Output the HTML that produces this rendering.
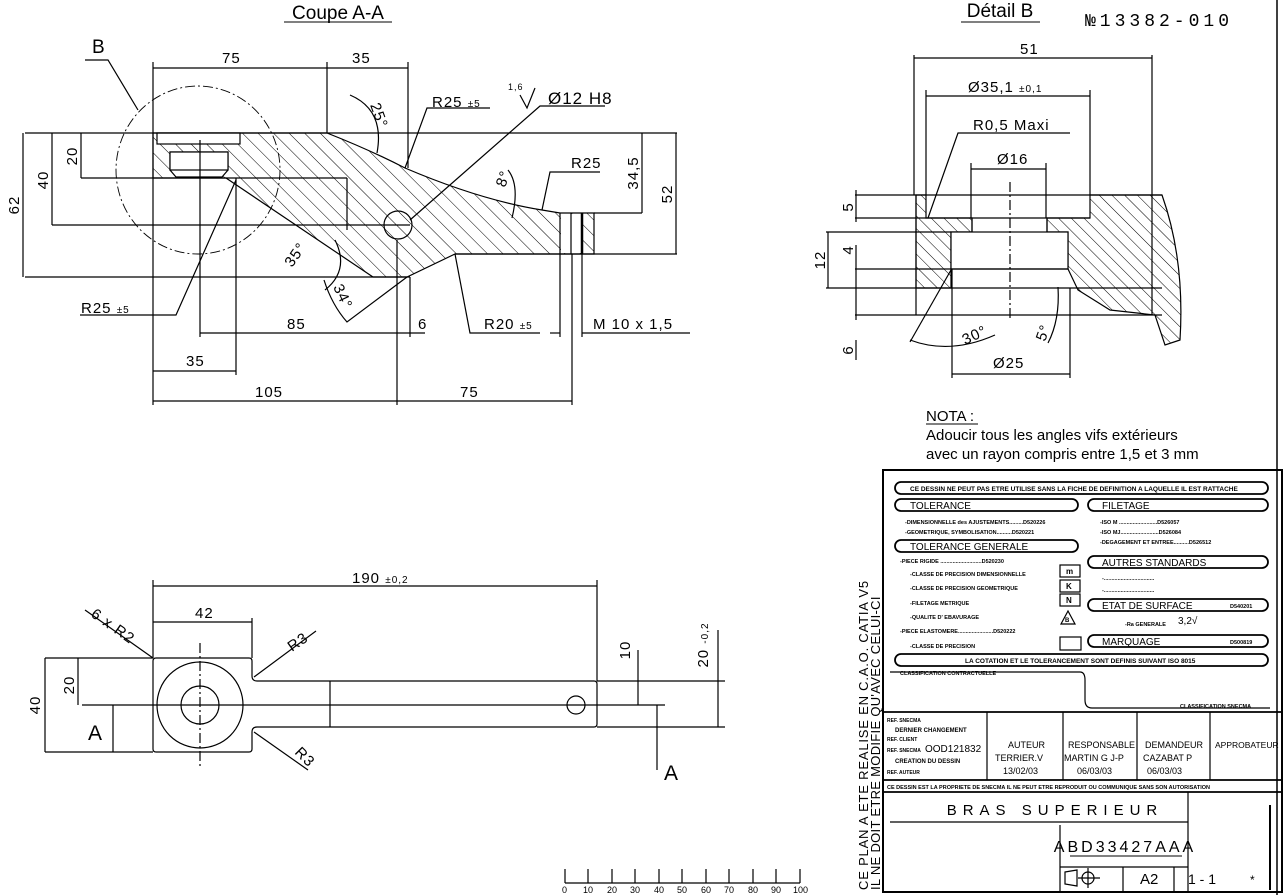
<!DOCTYPE html>
<html><head><meta charset="utf-8"><style>
html,body{margin:0;padding:0;background:#fff;}
svg{display:block;}
text{fill:#000;}
.t{font-size:15px;letter-spacing:1px;font-family:"Liberation Sans",Arial,sans-serif;}
.tb text{font-family:"Liberation Sans",Arial,sans-serif;}
</style></head><body>
<svg width="1285" height="895" viewBox="0 0 1285 895" xmlns="http://www.w3.org/2000/svg" font-family="Liberation Sans, Arial, sans-serif">
<defs>
<pattern id="h1" patternUnits="userSpaceOnUse" width="11" height="11" patternTransform="rotate(-45)">
<line x1="0" y1="0" x2="0" y2="11" stroke="#000" stroke-width="1"/></pattern>
<pattern id="h2" patternUnits="userSpaceOnUse" width="9" height="9" patternTransform="rotate(-45)">
<line x1="0" y1="0" x2="0" y2="9" stroke="#000" stroke-width="1"/></pattern>
</defs>
<rect width="1285" height="895" fill="#fff"/>
<g stroke="#000" fill="none" stroke-width="1.2">
<!-- ============ COUPE A-A ============ -->
<path d="M153,133 L327,133 Q370,150 405,168 Q480,200 542,210 L560,213 L594,213 L594,254 L455,254 L407,277 L373,277 L226,178 L153,178 Z" fill="url(#h1)"/>
<rect x="157" y="133" width="83" height="11" fill="#fff"/>
<path d="M170,152 L228,152 L228,170 L222,177 L176,177 L170,170 Z" fill="#fff"/>
<rect x="170" y="152" width="58" height="18" fill="#fff"/>
<rect x="561" y="214" width="20" height="39" fill="#fff" stroke="none"/>
<line x1="560" y1="213" x2="560" y2="254"/><line x1="571" y1="213" x2="571" y2="254"/><line x1="582" y1="213" x2="582" y2="254" stroke-width="2.5"/>
<line x1="25" y1="133" x2="677" y2="133"/>
<line x1="25" y1="277" x2="410" y2="277"/>
<line x1="153" y1="178" x2="347" y2="178"/>
<line x1="347" y1="178" x2="347" y2="230"/>
<line x1="455" y1="254" x2="677" y2="254"/>
<line x1="594" y1="213" x2="642" y2="213"/>
<line x1="52" y1="225" x2="410" y2="225"/>
<line x1="81" y1="178" x2="153" y2="178"/>
<circle cx="398" cy="225" r="14"/>
<ellipse cx="198" cy="170" rx="82" ry="84" stroke-dasharray="10,3,2,3" stroke-width="0.9"/>
<path d="M85,60 L108,60 L138,110"/>
<line x1="153" y1="68" x2="408" y2="68"/>
<line x1="153" y1="62" x2="153" y2="405"/>
<line x1="327" y1="62" x2="327" y2="133"/>
<line x1="408" y1="62" x2="408" y2="168"/>
<line x1="23" y1="133" x2="23" y2="277"/>
<line x1="52" y1="133" x2="52" y2="225"/>
<line x1="81" y1="133" x2="81" y2="178"/>
<line x1="642" y1="133" x2="642" y2="213"/>
<line x1="676" y1="133" x2="676" y2="254"/>
<line x1="200" y1="140" x2="200" y2="337"/>
<line x1="236" y1="178" x2="236" y2="375"/>
<line x1="397" y1="240" x2="397" y2="405"/>
<line x1="410" y1="277" x2="410" y2="337"/>
<line x1="572" y1="254" x2="572" y2="405"/>
<line x1="560" y1="254" x2="560" y2="337"/>
<line x1="582" y1="254" x2="582" y2="337"/>
<line x1="200" y1="333" x2="425" y2="333"/>
<line x1="153" y1="371" x2="236" y2="371"/>
<line x1="153" y1="401" x2="572" y2="401"/>
<line x1="550" y1="333" x2="560" y2="333"/><line x1="582" y1="333" x2="690" y2="333"/>
<path d="M490,108 L427,108 L405,168"/>
<path d="M605,106 L540,106 L410,220"/>
<path d="M520,95 L527,108 L535,88"/>
<path d="M600,172 L550,172 L542,210"/>
<path d="M80,315 L176,315 L236,180"/>
<path d="M540,333 L470,333 L455,254"/>
<path d="M350,95 Q385,110 377,153"/>
<path d="M508,170 Q520,185 512,218"/>
<path d="M325,290 Q350,270 335,240"/>
<path d="M324,280 Q332,305 347,322 L407,277"/>
<!-- ============ DETAIL B ============ -->
<path d="M916,195 L926,195 L926,218 L972,218 L972,232 L951,232 L951,288 L916,288 Z" fill="url(#h2)"/>
<path d="M1090,195 L1162,195 Q1185,260 1180,340 L1165,345 L1155,315 L1110,310 L1078,290 L1068,269 L1068,232 L1047,232 L1047,218 L1090,218 Z" fill="url(#h2)"/>
<rect x="951" y="232" width="117" height="37" fill="#fff"/>
<line x1="855" y1="195" x2="1162" y2="195"/>
<line x1="855" y1="218" x2="1090" y2="218"/>
<line x1="972" y1="218" x2="972" y2="232"/><line x1="1047" y1="218" x2="1047" y2="232"/>
<line x1="826" y1="232" x2="951" y2="232"/>
<line x1="855" y1="269" x2="1068" y2="269"/>
<line x1="826" y1="288" x2="1162" y2="288"/>
<line x1="855" y1="315" x2="1162" y2="315"/>
<line x1="916" y1="195" x2="916" y2="315"/>
<line x1="914" y1="55" x2="914" y2="195"/><line x1="1152" y1="55" x2="1152" y2="315"/>
<line x1="914" y1="58" x2="1152" y2="58"/>
<line x1="926" y1="90" x2="926" y2="195"/><line x1="1090" y1="90" x2="1090" y2="195"/>
<line x1="926" y1="96" x2="1090" y2="96"/>
<line x1="971" y1="163" x2="971" y2="218"/><line x1="1046" y1="163" x2="1046" y2="218"/>
<line x1="971" y1="169" x2="1046" y2="169"/>
<line x1="1010" y1="182" x2="1010" y2="318" stroke-dasharray="10,3,2,3"/>
<path d="M1070,133 L958,133 L928,218"/>
<line x1="856" y1="190" x2="856" y2="222"/>
<line x1="828" y1="232" x2="828" y2="288"/>
<line x1="856" y1="245" x2="856" y2="320"/>
<line x1="856" y1="340" x2="856" y2="360"/>
<line x1="952" y1="269" x2="952" y2="378"/><line x1="1070" y1="288" x2="1070" y2="378"/>
<line x1="952" y1="374" x2="1070" y2="374"/>
<path d="M910,340 Q950,355 995,335"/>
<path d="M951,270 L910,342"/>
<path d="M1058,287 Q1060,320 1048,343"/>
<!-- ============ TOP VIEW ============ -->
<path d="M156,658 L249,658 Q252,658 252,661 L252,676 Q252,681 257,681 L594,681 Q597,681 597,684 L597,724 Q597,727 594,727 L257,727 Q252,727 252,732 L252,749 Q252,752 249,752 L156,752 Q153,752 153,749 L153,661 Q153,658 156,658 Z"/>
<circle cx="200" cy="705" r="43"/>
<circle cx="200" cy="705" r="19"/>
<circle cx="576" cy="705" r="9"/>
<line x1="330" y1="681" x2="330" y2="727"/>
<line x1="82" y1="705" x2="665" y2="705"/>
<line x1="200" y1="643" x2="200" y2="767" stroke-dasharray="10,3,2,3"/>
<line x1="153" y1="586" x2="597" y2="586"/>
<line x1="153" y1="580" x2="153" y2="658"/><line x1="597" y1="580" x2="597" y2="681"/>
<line x1="153" y1="622" x2="252" y2="622"/><line x1="252" y1="618" x2="252" y2="658"/>
<line x1="45" y1="658" x2="153" y2="658"/><line x1="45" y1="752" x2="153" y2="752"/>
<line x1="45" y1="658" x2="45" y2="752"/>
<line x1="78" y1="658" x2="78" y2="705"/>
<line x1="113" y1="705" x2="113" y2="752"/>
<line x1="657" y1="705" x2="657" y2="770"/>
<line x1="638" y1="650" x2="638" y2="705"/>
<line x1="597" y1="681" x2="725" y2="681"/><line x1="597" y1="727" x2="725" y2="727"/>
<line x1="718" y1="630" x2="718" y2="727"/>
<line x1="85" y1="610" x2="153" y2="658"/>
<line x1="254" y1="677" x2="316" y2="631"/>
<line x1="254" y1="732" x2="308" y2="770"/>
<!-- ============ TITLE BLOCK ============ -->
<line x1="1277" y1="0" x2="1277" y2="895" stroke-width="1.5"/>
<rect x="883" y="470" width="399" height="422" stroke-width="2"/>
<g stroke-width="1.8">
<rect x="895" y="482" width="373" height="12" rx="6"/>
<rect x="895" y="499" width="183" height="12" rx="6"/>
<rect x="1088" y="499" width="180" height="12" rx="6"/>
<rect x="895" y="540" width="183" height="12" rx="6"/>
<rect x="1088" y="556" width="180" height="12" rx="6"/>
<rect x="1088" y="599" width="180" height="12" rx="6"/>
<rect x="1088" y="635" width="180" height="12" rx="6"/>
<rect x="895" y="654" width="373" height="12" rx="6"/>
</g>
<rect x="1060" y="565" width="20" height="12"/>
<rect x="1060" y="580" width="20" height="12"/>
<rect x="1060" y="594" width="20" height="12"/>
<path d="M1068,611 L1061,624 L1075,624 Z"/>
<rect x="1060" y="637" width="21" height="13"/>
<path d="M890,672 L1080,672 Q1085,672 1085,680 L1085,700 Q1085,708 1092,708 L1270,708"/>
<g stroke-width="1.8">
<line x1="883" y1="712" x2="1282" y2="712"/>
<line x1="883" y1="780" x2="1282" y2="780"/>
<line x1="883" y1="792" x2="1282" y2="792"/>
</g>
<line x1="987" y1="712" x2="987" y2="780"/>
<line x1="1063" y1="712" x2="1063" y2="780"/>
<line x1="1137" y1="712" x2="1137" y2="780"/>
<line x1="1210" y1="712" x2="1210" y2="780"/>
<line x1="890" y1="822" x2="1188" y2="822"/>
<line x1="1188" y1="792" x2="1188" y2="892"/>
<line x1="1060" y1="825" x2="1060" y2="892"/>
<line x1="1060" y1="867" x2="1188" y2="867"/>
<line x1="1123" y1="867" x2="1123" y2="892"/>
<line x1="1174" y1="867" x2="1174" y2="892"/>
<line x1="1270" y1="805" x2="1270" y2="890" stroke-width="2"/>
<circle cx="1088" cy="878" r="6"/><line x1="1078" y1="878" x2="1100" y2="878"/><line x1="1088" y1="868" x2="1088" y2="888"/>
<path d="M1065,872 L1077,870 L1077,886 L1065,884 Z"/>
<line x1="565" y1="883" x2="800" y2="883"/>
<line x1="565" y1="869" x2="565" y2="883"/><line x1="588" y1="869" x2="588" y2="883"/>
<line x1="612" y1="869" x2="612" y2="883"/><line x1="635" y1="869" x2="635" y2="883"/>
<line x1="659" y1="869" x2="659" y2="883"/><line x1="682" y1="869" x2="682" y2="883"/>
<line x1="706" y1="869" x2="706" y2="883"/><line x1="729" y1="869" x2="729" y2="883"/>
<line x1="753" y1="869" x2="753" y2="883"/><line x1="776" y1="869" x2="776" y2="883"/>
<line x1="800" y1="869" x2="800" y2="883"/>
</g>
<!-- TEXT -->
<text x="338" y="19" font-size="19" text-anchor="middle">Coupe A-A</text>
<line x1="284" y1="22" x2="392" y2="22" stroke="#000"/>
<text x="1000" y="17" font-size="19" text-anchor="middle">Détail B</text>
<line x1="961" y1="22" x2="1040" y2="22" stroke="#000"/>
<text x="1085" y="26" font-size="18" font-family="Liberation Mono, monospace" letter-spacing="4">№13382-010</text>
<text x="92" y="53" font-size="19">B</text>
<g class="t">
<text x="222" y="63">75</text><text x="352" y="63">35</text>
<text x="432" y="107">R25 <tspan font-size="10">±5</tspan></text>
<text x="548" y="104" font-size="17">Ø12 H8</text>
<text x="508" y="90" font-size="9">1,6</text>
<text x="571" y="168">R25</text>
<text x="81" y="313">R25 <tspan font-size="10">±5</tspan></text>
<text x="287" y="329">85</text><text x="418" y="329">6</text>
<text x="484" y="329">R20 <tspan font-size="10">±5</tspan></text>
<text x="593" y="329">M 10  x 1,5</text>
<text x="186" y="366">35</text>
<text x="255" y="397">105</text><text x="460" y="397">75</text>
<text transform="translate(19,205) rotate(-90)" text-anchor="middle">62</text>
<text transform="translate(48,180) rotate(-90)" text-anchor="middle">40</text>
<text transform="translate(77,156) rotate(-90)" text-anchor="middle">20</text>
<text transform="translate(638,173) rotate(-90)" text-anchor="middle">34,5</text>
<text transform="translate(672,194) rotate(-90)" text-anchor="middle">52</text>
<text transform="translate(370,105) rotate(70)">25°</text>
<text transform="translate(505,188) rotate(-70)">8°</text>
<text transform="translate(292,268) rotate(-55)">35°</text>
<text transform="translate(333,287) rotate(65)">34°</text>
<text x="1020" y="54">51</text>
<text x="968" y="92">Ø35,1 <tspan font-size="10">±0,1</tspan></text>
<text x="973" y="130">R0,5  Maxi</text>
<text x="997" y="164">Ø16</text>
<text x="993" y="368">Ø25</text>
<text transform="translate(853,207) rotate(-90)" text-anchor="middle">5</text>
<text transform="translate(825,260) rotate(-90)" text-anchor="middle">12</text>
<text transform="translate(853,250) rotate(-90)" text-anchor="middle">4</text>
<text transform="translate(853,350) rotate(-90)" text-anchor="middle">6</text>
<text transform="translate(965,345) rotate(-25)">30°</text>
<text transform="translate(1045,342) rotate(-70)">5°</text>
<text x="352" y="583">190 <tspan font-size="10">±0,2</tspan></text>
<text x="195" y="618">42</text>
<text transform="translate(90,616) rotate(35)">6 x R2</text>
<text transform="translate(292,652) rotate(-35)">R3</text>
<text transform="translate(294,753) rotate(45)">R3</text>
<text transform="translate(40,705) rotate(-90)" text-anchor="middle">40</text>
<text transform="translate(74,685) rotate(-90)" text-anchor="middle">20</text>
<text transform="translate(630,650) rotate(-90)" text-anchor="middle">10</text>
<text transform="translate(708,645) rotate(-90)" text-anchor="middle">20 <tspan font-size="10">-0,2</tspan></text>
</g>
<text x="88" y="740" font-size="21">A</text>
<text x="664" y="780" font-size="21">A</text>
<text x="926" y="421" font-size="15">NOTA :</text>
<line x1="926" y1="424" x2="978" y2="424" stroke="#000"/>
<text x="926" y="440" font-size="15">Adoucir tous les angles vifs extérieurs</text>
<text x="926" y="459" font-size="15">avec un rayon compris entre 1,5 et 3 mm</text>
<g class="tb" font-weight="bold">
<text x="910" y="491" font-size="6.5">CE DESSIN NE PEUT PAS ETRE UTILISE SANS LA FICHE DE DEFINITION A LAQUELLE IL EST RATTACHE</text>
<text x="910" y="509" font-size="10" font-weight="normal">TOLERANCE</text>
<text x="1102" y="509" font-size="10" font-weight="normal">FILETAGE</text>
<text x="905" y="524" font-size="5.5">-DIMENSIONNELLE des AJUSTEMENTS.........D520226</text>
<text x="905" y="534" font-size="5.5">-GEOMETRIQUE, SYMBOLISATION..........D520221</text>
<text x="1100" y="524" font-size="5.5">-ISO M .........................D526057</text>
<text x="1100" y="534" font-size="5.5">-ISO MJ.........................D526084</text>
<text x="1100" y="544" font-size="5.5">-DEGAGEMENT ET ENTREE..........D526512</text>
<text x="910" y="550" font-size="10" font-weight="normal">TOLERANCE GENERALE</text>
<text x="900" y="563" font-size="5.5">-PIECE RIGIDE ...........................D520230</text>
<text x="910" y="576" font-size="5.5">-CLASSE DE PRECISION DIMENSIONNELLE</text>
<text x="910" y="590" font-size="5.5">-CLASSE DE PRECISION GEOMETRIQUE</text>
<text x="910" y="605" font-size="5.5">-FILETAGE METRIQUE</text>
<text x="910" y="619" font-size="5.5">-QUALITE D' EBAVURAGE</text>
<text x="900" y="633" font-size="5.5">-PIECE ELASTOMERE.......................D520222</text>
<text x="910" y="648" font-size="5.5">-CLASSE DE PRECISION</text>
<text x="1066" y="574" font-size="8">m</text><text x="1066" y="589" font-size="8">K</text><text x="1066" y="603" font-size="8">N</text>
<text x="1065" y="622" font-size="6">B</text>
<text x="1102" y="566" font-size="10" font-weight="normal">AUTRES STANDARDS</text>
<text x="1102" y="580" font-size="5.5">-.................................</text>
<text x="1102" y="592" font-size="5.5">-.................................</text>
<text x="1102" y="609" font-size="10" font-weight="normal">ETAT DE SURFACE</text>
<text x="1230" y="608" font-size="5.5">D540201</text>
<text x="1125" y="626" font-size="5.5">-Ra GENERALE</text>
<text x="1178" y="624" font-size="10" font-weight="normal">3,2√</text>
<text x="1102" y="645" font-size="10" font-weight="normal">MARQUAGE</text>
<text x="1230" y="644" font-size="5.5">D500819</text>
<text x="965" y="663" font-size="6.5">LA COTATION ET LE TOLERANCEMENT SONT DEFINIS SUIVANT ISO 8015</text>
<text x="900" y="675" font-size="5.5">CLASSIFICATION CONTRACTUELLE</text>
<text x="1180" y="708" font-size="5.5">CLASSIFICATION SNECMA</text>
<text x="887" y="722" font-size="5">REF. SNECMA</text>
<text x="895" y="732" font-size="6">DERNIER CHANGEMENT</text>
<text x="887" y="741" font-size="5">REF. CLIENT</text>
<text x="887" y="752" font-size="5">REF. SNECMA</text>
<text x="925" y="752" font-size="10" font-weight="normal">OOD121832</text>
<text x="895" y="763" font-size="6">CREATION DU DESSIN</text>
<text x="887" y="774" font-size="5">REF. AUTEUR</text>
<text x="1008" y="748" font-size="9" font-weight="normal">AUTEUR</text>
<text x="995" y="761" font-size="9" font-weight="normal">TERRIER.V</text>
<text x="1003" y="774" font-size="9" font-weight="normal">13/02/03</text>
<text x="1068" y="748" font-size="9" font-weight="normal">RESPONSABLE</text>
<text x="1064" y="761" font-size="9" font-weight="normal">MARTIN G J-P</text>
<text x="1077" y="774" font-size="9" font-weight="normal">06/03/03</text>
<text x="1145" y="748" font-size="9" font-weight="normal">DEMANDEUR</text>
<text x="1143" y="761" font-size="9" font-weight="normal">CAZABAT P</text>
<text x="1147" y="774" font-size="9" font-weight="normal">06/03/03</text>
<text x="1215" y="748" font-size="8.5" font-weight="normal">APPROBATEUR</text>
<text x="887" y="789" font-size="5.5">CE DESSIN EST LA PROPRIETE DE SNECMA   IL NE PEUT ETRE REPRODUIT OU COMMUNIQUE SANS SON AUTORISATION</text>
</g>
<text x="1055" y="815" font-size="15" text-anchor="middle" letter-spacing="6">BRAS SUPERIEUR</text>
<text x="1125" y="852" font-size="16" text-anchor="middle" letter-spacing="3">ABD33427AAA</text>
<line x1="1070" y1="856" x2="1182" y2="856" stroke="#000"/>
<text x="1140" y="884" font-size="15">A2</text>
<text x="1188" y="884" font-size="14">1 - 1</text>
<text x="1250" y="884" font-size="12">*</text>
<text transform="translate(868,890) rotate(-90)" font-size="13" letter-spacing="0.8">CE PLAN A ETE REALISE EN C.A.O. CATIA V5</text>
<text transform="translate(880,890) rotate(-90)" font-size="13" letter-spacing="0.3">IL NE DOIT ETRE MODIFIE QU'AVEC CELUI-CI</text>
<g font-size="9">
<text x="562" y="893">0</text><text x="583" y="893">10</text><text x="607" y="893">20</text><text x="630" y="893">30</text><text x="654" y="893">40</text><text x="677" y="893">50</text><text x="701" y="893">60</text><text x="724" y="893">70</text><text x="748" y="893">80</text><text x="771" y="893">90</text><text x="793" y="893">100</text>
</g>
</svg>
</body></html>
